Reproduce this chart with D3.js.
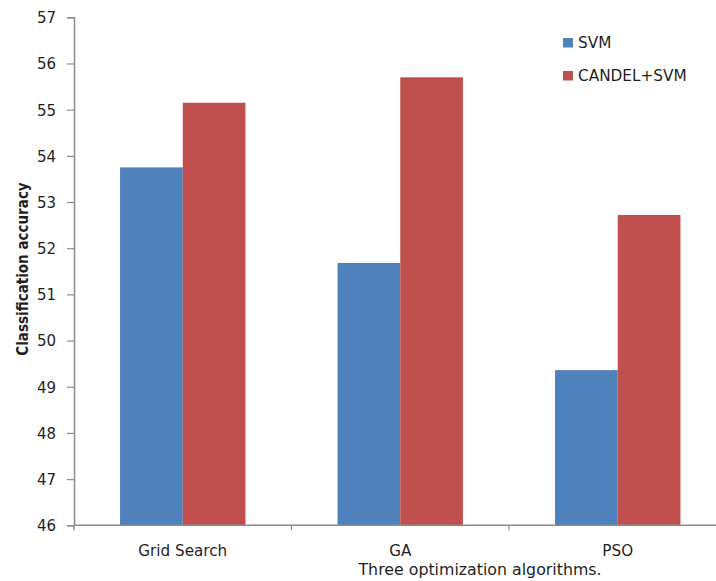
<!DOCTYPE html>
<html>
<head>
<meta charset="utf-8">
<script src="https://cdn.jsdelivr.net/npm/d3@7"></script>
<style>
  html, body { margin: 0; padding: 0; background: #fff; }
  svg { display: block; }
  text { font-family: "DejaVu Sans", Verdana, sans-serif; fill: #1f1f1f; }
</style>
</head>
<body>
<svg id="chart" width="716" height="581"></svg>
<script>
const categories = ["Grid Search", "GA", "PSO"];
const seriesNames = ["SVM", "CANDEL+SVM"];
const svmValues = [53.75, 51.68, 49.36];
const candelValues = [55.15, 55.70, 52.72];
const yTicks = [46, 47, 48, 49, 50, 51, 52, 53, 54, 55, 56, 57];
const colors = ["#4F81BD", "#C0504D"];
const xTitle = "Three optimization algorithms.";
const yTitle = "Classification  accuracy";

const svg = d3.select("#chart");
const mLeft = 74, mRight = 726.5, mTop = 17.3, mBottom = 525.3;

const y = d3.scaleLinear().domain([46, 57]).range([mBottom, mTop]);
const x0 = d3.scaleBand().domain(categories).range([mLeft, mRight])
  .paddingInner(0.4235).paddingOuter(0.21175);
const x1 = d3.scaleBand().domain(seriesNames).range([0, x0.bandwidth()]);

const data = categories.map((c, i) => ({ cat: c, vals: [svmValues[i], candelValues[i]] }));

// bars
const g = svg.append("g");
data.forEach(d => {
  d.vals.forEach((v, j) => {
    g.append("rect")
      .attr("x", x0(d.cat) + x1(seriesNames[j]))
      .attr("y", y(v))
      .attr("width", x1.bandwidth())
      .attr("height", y(46) - y(v))
      .attr("fill", colors[j]);
  });
});

// y axis
const yAxis = d3.axisLeft(y).tickValues(yTicks).tickSize(7).tickPadding(11).tickFormat(d3.format("d"));
const ya = svg.append("g").attr("transform", `translate(${mLeft},0)`).call(yAxis);
ya.select(".domain").attr("stroke", "#8c8c8c").attr("stroke-width", 1.5);
ya.selectAll(".tick line").attr("stroke", "#8c8c8c").attr("stroke-width", 1.2);
ya.selectAll(".tick text").style("font-size", "15px").attr("fill", "#1f1f1f").attr("dy", "0.36em");

// x axis line
svg.append("line").attr("x1", mLeft).attr("x2", 716).attr("y1", mBottom).attr("y2", mBottom)
  .attr("stroke", "#8c8c8c").attr("stroke-width", 1.5);
// category boundary ticks
const step = x0.step();
[1, 2].forEach(k => {
  const tx = mLeft + k * step;
  svg.append("line").attr("x1", tx).attr("x2", tx).attr("y1", mBottom).attr("y2", mBottom + 5)
    .attr("stroke", "#8c8c8c").attr("stroke-width", 1.2);
});
svg.append("line").attr("x1", mLeft).attr("x2", mLeft).attr("y1", mBottom).attr("y2", mBottom + 5)
  .attr("stroke", "#8c8c8c").attr("stroke-width", 1.5);

// category labels
svg.append("g").selectAll("text").data(categories).join("text")
  .attr("x", d => x0(d) + x0.bandwidth() / 2)
  .attr("y", 556)
  .attr("text-anchor", "middle")
  .style("font-size", "15.2px")
  .text(d => d);

// x title
svg.append("text").attr("x", 480).attr("y", 575).attr("text-anchor", "middle")
  .style("font-size", "15.8px").text(xTitle);

// y title
svg.append("text")
  .attr("transform", "translate(28,269) rotate(-90)")
  .attr("text-anchor", "middle")
  .style("font-size", "15px").style("font-weight", "bold")
  .style("font-family", "'Liberation Sans Narrow', 'DejaVu Sans Condensed', sans-serif")
  .attr("fill", "#000")
  .text(yTitle);

// legend
const lg = svg.append("g");
seriesNames.forEach((s, i) => {
  lg.append("rect").attr("x", 563).attr("y", 38 + i * 33).attr("width", 10).attr("height", 9.5).attr("fill", colors[i]);
  lg.append("text").attr("x", 578).attr("y", 48 + i * 33).style("font-size", "15.3px").text(s);
});
</script>
</body>
</html>
